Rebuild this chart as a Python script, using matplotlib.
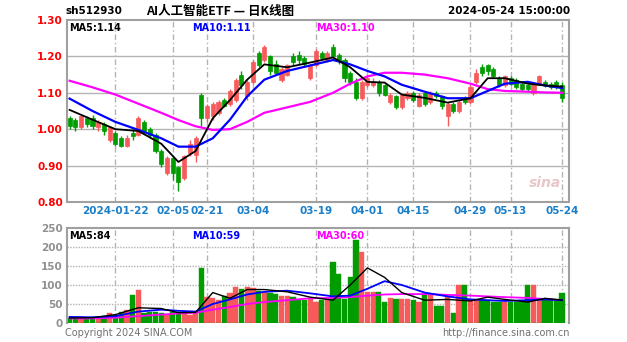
import matplotlib
matplotlib.use("Agg")
import matplotlib.pyplot as plt
import numpy as np

plt.rcParams['font.family'] = ['DejaVu Sans', 'Noto Sans CJK SC']

# daily candles, 2024-01-10 .. 2024-05-24 (87 trading days)
opens = [1.03, 1.025, 1.005, 1.03, 1.03, 1.005, 1.015, 0.97, 0.99, 0.975,
         0.955, 0.99, 0.985, 1.02, 1.0, 0.985, 0.94, 0.88, 0.92, 0.895,
         0.865, 0.935, 0.93, 1.095, 1.03, 1.035, 1.045, 1.08, 1.07, 1.08,
         1.15, 1.09, 1.13, 1.21, 1.19, 1.2, 1.18, 1.135, 1.15, 1.2,
         1.205, 1.195, 1.14, 1.175, 1.21, 1.19, 1.225, 1.205, 1.19, 1.155,
         1.13, 1.085, 1.12, 1.12, 1.13, 1.12, 1.075, 1.09, 1.06, 1.085,
         1.1, 1.065, 1.1, 1.075, 1.1, 1.09, 1.035, 1.07, 1.05, 1.085,
         1.075, 1.13, 1.17, 1.175, 1.165, 1.14, 1.12, 1.14, 1.135, 1.125,
         1.12, 1.1, 1.125, 1.13, 1.125, 1.13, 1.12]
closes = [1.01, 1.005, 1.035, 1.015, 1.01, 1.02, 0.995, 1.005, 0.96, 0.955,
          0.975, 0.98, 1.03, 0.995, 0.985, 0.94, 0.905, 0.92, 0.88, 0.855,
          0.925, 0.96, 0.975, 1.03, 1.065, 1.07, 1.075, 1.065, 1.105, 1.135,
          1.12, 1.13, 1.185, 1.175, 1.225, 1.16, 1.155, 1.165, 1.175, 1.185,
          1.19, 1.18, 1.175, 1.215, 1.195, 1.21, 1.2, 1.19, 1.14, 1.13,
          1.085, 1.13, 1.14, 1.13, 1.1, 1.095, 1.095, 1.06, 1.095, 1.1,
          1.08, 1.095, 1.07, 1.1, 1.09, 1.065, 1.07, 1.05, 1.075, 1.075,
          1.115, 1.155, 1.155, 1.16, 1.145, 1.12, 1.145, 1.125, 1.115, 1.11,
          1.11, 1.12, 1.145, 1.12, 1.115, 1.12, 1.085]
highs = [1.035, 1.03, 1.04, 1.035, 1.04, 1.025, 1.02, 1.01, 0.995, 0.98,
         0.985, 1.0, 1.035, 1.025, 1.005, 0.99, 0.945, 0.925, 0.925, 0.9,
         0.93, 0.97, 0.98, 1.1, 1.07, 1.075, 1.08, 1.085, 1.11, 1.14,
         1.16, 1.135, 1.19, 1.215, 1.23, 1.205, 1.19, 1.17, 1.18, 1.21,
         1.215, 1.2, 1.18, 1.22, 1.215, 1.215, 1.235, 1.21, 1.195, 1.16,
         1.14, 1.135, 1.145, 1.14, 1.135, 1.125, 1.1, 1.095, 1.1, 1.105,
         1.105, 1.1, 1.105, 1.105, 1.105, 1.095, 1.075, 1.075, 1.08, 1.09,
         1.12, 1.165, 1.18, 1.18, 1.17, 1.145, 1.15, 1.145, 1.14, 1.13,
         1.125, 1.125, 1.15, 1.135, 1.13, 1.135, 1.13]
lows = [1.0, 0.995, 1.0, 1.005, 1.0, 0.995, 0.985, 0.965, 0.955, 0.95,
        0.95, 0.97, 0.98, 0.99, 0.975, 0.935, 0.895, 0.875, 0.86, 0.83,
        0.86, 0.925, 0.91, 1.01, 1.02, 1.025, 1.04, 1.06, 1.065, 1.075,
        1.11, 1.08, 1.125, 1.17, 1.185, 1.15, 1.15, 1.13, 1.145, 1.175,
        1.18, 1.17, 1.135, 1.17, 1.19, 1.185, 1.195, 1.18, 1.13, 1.12,
        1.08, 1.08, 1.115, 1.115, 1.09, 1.09, 1.07, 1.055, 1.055, 1.08,
        1.075, 1.06, 1.065, 1.07, 1.085, 1.055, 1.01, 1.045, 1.045, 1.07,
        1.07, 1.125, 1.145, 1.15, 1.14, 1.115, 1.115, 1.12, 1.11, 1.105,
        1.105, 1.095, 1.12, 1.115, 1.11, 1.11, 1.075]
volumes = [14, 12, 15, 13, 12, 14, 16, 26, 22, 29,
           34, 74, 87, 25, 30, 28, 25, 22, 30, 28,
           25, 22, 28, 145, 68, 66, 60, 70, 80, 95,
           90, 95, 92, 85, 82, 80, 75, 70, 70, 68,
           60, 60, 62, 55, 60, 62, 160, 130, 62, 120,
           218, 187, 82, 82, 82, 55, 65, 62, 62, 62,
           60, 55, 75, 75, 45, 45, 68, 25, 100, 100,
           60, 60, 60, 60, 55, 55, 55, 55, 55, 55,
           100, 100, 60, 60, 62, 62, 79]

# moving-average lines (index, value)
ma_idx = [0, 4, 8, 12, 16, 19, 22, 25, 28, 31, 34, 38, 42, 46, 49, 52,
          55, 58, 62, 66, 70, 73, 76, 80, 83, 86]
ma5 = [1.053, 1.026, 1.0, 0.995, 0.96, 0.91, 0.94, 1.03, 1.08, 1.136,
       1.178, 1.17, 1.183, 1.197, 1.17, 1.13, 1.128, 1.095, 1.086, 1.073,
       1.085, 1.14, 1.14, 1.125, 1.12, 1.117]
ma10 = [1.084, 1.05, 1.02, 0.998, 0.975, 0.952, 0.952, 0.975, 1.026, 1.09,
        1.136, 1.16, 1.175, 1.19, 1.178, 1.16, 1.145, 1.122, 1.103, 1.085,
        1.085, 1.105, 1.125, 1.13, 1.12, 1.113]
ma30 = [1.133, 1.115, 1.095, 1.07, 1.045, 1.025, 1.008, 0.998, 1.0, 1.02,
        1.045, 1.06, 1.075, 1.1, 1.125, 1.145, 1.155, 1.155, 1.15, 1.14,
        1.125, 1.11, 1.105, 1.103, 1.101, 1.1]
vma5 = [13, 14, 22, 40, 38, 27, 28, 80, 65, 88, 88, 82, 68, 60, 100, 145,
        120, 80, 60, 62, 58, 68, 62, 55, 65, 60]
vma10 = [16, 15, 18, 30, 35, 32, 30, 50, 62, 75, 82, 85, 78, 70, 72, 90,
         110, 100, 80, 70, 62, 60, 58, 60, 62, 60]
vma30 = [12, 12, 14, 18, 22, 25, 27, 35, 42, 50, 55, 60, 65, 66, 68, 72,
         75, 76, 76, 74, 72, 70, 68, 66, 63, 60]

tick_idx = [8, 18, 24, 32, 43, 52, 60, 70, 77, 86]
tick_lbl = ["2024-01-22", "02-05", "02-21", "03-04", "03-19", "04-01",
            "04-15", "04-29", "05-13", "05-24"]

RED = "#f65a5a"
GREEN = "#009c00"
GRID = "#b4b4b4"
x = np.arange(len(closes))
up = np.array(closes) >= np.array(opens)
colors = [RED if u else GREEN for u in up]

fig = plt.figure(figsize=(6.27, 3.42), dpi=100)
ax = fig.add_axes([0.1069, 0.4094, 0.8006, 0.5322])
axv = fig.add_axes([0.1069, 0.0556, 0.8006, 0.2778])

xl = (-0.45, 87.2)

# price panel
ax.set_xlim(*xl)
ax.set_ylim(0.80, 1.30)
for lv in [0.9, 1.0, 1.1, 1.2]:
    ax.axhline(lv, color=GRID, lw=1.0, zorder=0)
for lv in [0.85, 0.95, 1.05, 1.15, 1.25]:
    pass
for t in tick_idx:
    ax.axvline(t, color=GRID, lw=1.0, ls=(0, (4, 2, 1, 2)), zorder=0)
ax.vlines(x, lows, highs, colors=colors, lw=1.0, zorder=2)
body = np.abs(np.array(closes) - np.array(opens))
body = np.maximum(body, 0.002)
ax.bar(x, body, bottom=np.minimum(opens, closes), width=0.72,
       color=colors, edgecolor=colors, lw=0.5, zorder=3)
ax.plot(ma_idx, ma30, color="#ff00ff", lw=1.6, zorder=4)
ax.plot(ma_idx, ma10, color="#0000ff", lw=1.6, zorder=4)
ax.plot(ma_idx, ma5, color="black", lw=1.3, zorder=5)
ax.set_yticks([0.8, 0.9, 1.0, 1.1, 1.2, 1.3])
ax.set_yticklabels(["0.80", "0.90", "1.00", "1.10", "1.20", "1.30"],
                   color="red", fontsize=7.5, fontweight="bold")
ax.set_xticks(tick_idx)
ax.set_xticklabels(tick_lbl, color="#1a7fc8", fontsize=7.5,
                   fontweight="bold")
ax.tick_params(length=0, pad=3)
for s in ax.spines.values():
    s.set_color("#a0a0a0")
    s.set_linewidth(1.5)
ax.text(0.005, 0.985, "MA5:1.14", transform=ax.transAxes, fontsize=7,
        va="top", color="black", fontweight="bold")
ax.text(0.25, 0.985, "MA10:1.11", transform=ax.transAxes, fontsize=7,
        va="top", color="#0000ff", fontweight="bold")
ax.text(0.497, 0.985, "MA30:1.10", transform=ax.transAxes, fontsize=7,
        va="top", color="#ff00ff", fontweight="bold")
ax.text(0.985, 0.08, "sina", transform=ax.transAxes, fontsize=10,
        ha="right", color="#e0b0b0", style="italic", fontweight="bold",
        alpha=0.7)

# volume panel
axv.set_xlim(*xl)
axv.set_ylim(0, 250)
for lv in [50, 100, 150, 200]:
    axv.axhline(lv, color=GRID, lw=1.0, ls=(0, (1, 1)), zorder=0)
for t in tick_idx:
    axv.axvline(t, color=GRID, lw=1.0, ls=(0, (4, 2, 1, 2)), zorder=0)
axv.bar(x, volumes, width=0.92, color=colors, edgecolor=colors, lw=0.3,
        zorder=2)
axv.plot(ma_idx, vma30, color="#ff00ff", lw=1.3, zorder=4)
axv.plot(ma_idx, vma10, color="#0000ff", lw=1.3, zorder=4)
axv.plot(ma_idx, vma5, color="black", lw=1.0, zorder=5)
axv.axhline(0, color=GREEN, lw=1.0, ls=(0, (3, 2)), zorder=6)
axv.set_yticks([0, 50, 100, 150, 200, 250])
axv.set_yticklabels(["0", "50", "100", "150", "200", "250"],
                    color="#909090", fontsize=7.5, fontweight="bold")
axv.set_xticks([])
axv.tick_params(length=0, pad=3)
for s in axv.spines.values():
    s.set_color("#a0a0a0")
    s.set_linewidth(1.5)
axv.spines["bottom"].set_visible(False)
axv.text(0.005, 0.97, "MA5:84", transform=axv.transAxes, fontsize=7,
         va="top", color="black", fontweight="bold")
axv.text(0.25, 0.97, "MA10:59", transform=axv.transAxes, fontsize=7,
         va="top", color="#0000ff", fontweight="bold")
axv.text(0.497, 0.97, "MA30:60", transform=axv.transAxes, fontsize=7,
         va="top", color="#ff00ff", fontweight="bold")

# header and footer
fig.text(65 / 627, 1 - 11 / 342, "sh512930", fontsize=7.5,
         fontweight="bold", va="center")
fig.text(220 / 627, 1 - 11 / 342, "AI人工智能ETF — 日K线图", fontsize=9,
         fontweight="bold", va="center", ha="center",
         family=["Noto Sans CJK SC", "DejaVu Sans"])
fig.text(570 / 627, 1 - 11 / 342, "2024-05-24 15:00:00", fontsize=7.5,
         fontweight="bold", va="center", ha="right")
fig.text(65 / 627, 1 - 333 / 342, "Copyright 2024 SINA.COM", fontsize=7,
         color="#707070", va="center")
fig.text(570 / 627, 1 - 333 / 342, "http://finance.sina.com.cn",
         fontsize=7, color="#707070", va="center", ha="right")

fig.savefig("out.png", dpi=100, facecolor="white")
